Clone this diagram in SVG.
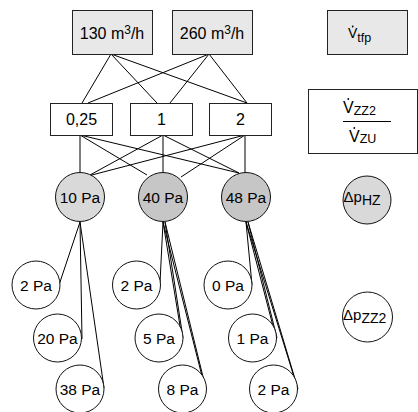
<svg xmlns="http://www.w3.org/2000/svg" width="418" height="412" viewBox="0 0 418 412">
<style>
text{font-family:"Liberation Sans",Arial,sans-serif;fill:#000}
.bx{font-size:16px;text-anchor:middle}
.ci{font-size:15.5px;text-anchor:middle}
.sub{font-size:12.5px}
.box{stroke:#222;stroke-width:1}
.gray{fill:#e8e8e8}
.white{fill:#fff}
.c{stroke:#111;stroke-width:1}
.c1{fill:#d9d9d9}
.c2{fill:#c6c6c6}
.cw{fill:#fff}
.dot{fill:#000}
#connectors line{stroke:#000;stroke-width:1}
</style>
<rect width="418" height="412" fill="#fff"/>
<g id="connectors">
<line x1="111" y1="54" x2="82" y2="103"/>
<line x1="111" y1="54" x2="157" y2="103"/>
<line x1="111" y1="54" x2="247" y2="103"/>
<line x1="209" y1="54" x2="88" y2="103"/>
<line x1="209" y1="54" x2="170" y2="103"/>
<line x1="209" y1="54" x2="247" y2="103"/>
<line x1="80" y1="135" x2="80" y2="173"/>
<line x1="80" y1="135" x2="147" y2="175"/>
<line x1="80" y1="135" x2="239" y2="173"/>
<line x1="163" y1="135" x2="90" y2="175"/>
<line x1="163" y1="135" x2="163" y2="173"/>
<line x1="163" y1="135" x2="239" y2="173"/>
<line x1="245" y1="135" x2="88" y2="176"/>
<line x1="245" y1="135" x2="181" y2="177"/>
<line x1="245" y1="135" x2="245" y2="173"/>
<line x1="80" y1="222" x2="59" y2="285"/>
<line x1="80" y1="222" x2="82" y2="339"/>
<line x1="80" y1="222" x2="104" y2="388"/>
<line x1="163" y1="222" x2="160" y2="283"/>
<line x1="163" y1="222" x2="181" y2="332"/>
<line x1="165" y1="222" x2="183" y2="338"/>
<line x1="163" y1="222" x2="203" y2="380"/>
<line x1="165" y1="222" x2="206" y2="389"/>
<line x1="246" y1="222" x2="252" y2="285"/>
<line x1="246" y1="222" x2="274" y2="330"/>
<line x1="248" y1="222" x2="277" y2="338"/>
<line x1="246" y1="222" x2="295" y2="380"/>
<line x1="248" y1="222" x2="298" y2="389"/>
</g>
<g id="n130">
<rect class="box gray" x="72.5" y="10.5" width="80" height="44"/>
<text class="bx" x="112" y="39">130 m<tspan font-size="12" dy="-5">3</tspan><tspan dy="5">/h</tspan></text>
</g>
<g id="n260">
<rect class="box gray" x="172.5" y="10.5" width="80" height="44"/>
<text class="bx" x="212" y="39">260 m<tspan font-size="12" dy="-5">3</tspan><tspan dy="5">/h</tspan></text>
</g>
<g id="legendVtfp">
<rect class="box gray" x="327.5" y="10.5" width="80" height="44"/>
<text x="348" y="38" font-size="14">V<tspan class="sub" dy="4">tfp</tspan></text>
<circle class="dot" cx="352.7" cy="26.5" r="0.9"/>
</g>
<g id="r025">
<rect class="box white" x="50.5" y="103.5" width="62" height="32"/>
<text class="bx" x="81.5" y="125">0,25</text>
</g>
<g id="r1">
<rect class="box white" x="130.5" y="103.5" width="62" height="32"/>
<text class="bx" x="161.5" y="125">1</text>
</g>
<g id="r2">
<rect class="box white" x="209.5" y="103.5" width="62" height="32"/>
<text class="bx" x="240.5" y="125">2</text>
</g>
<g id="legendRatio">
<rect class="box white" x="308.5" y="89.5" width="109" height="64"/>
<text x="343" y="113" font-size="16">V<tspan class="sub" font-size="14" dy="2">ZZ2</tspan></text>
<circle class="dot" cx="348.3" cy="99" r="0.9"/>
<line x1="343" y1="121.5" x2="391" y2="121.5" stroke="#000" stroke-width="1"/>
<text x="349" y="142" font-size="16">V<tspan class="sub" font-size="14" dy="1">ZU</tspan></text>
<circle class="dot" cx="354.3" cy="128" r="0.9"/>
</g>
<g id="p10">
<circle class="c c1" cx="80" cy="197" r="24.5"/>
<text class="ci" x="80" y="203">10 Pa</text>
</g>
<g id="p40">
<circle class="c c2" cx="163" cy="197" r="24.5"/>
<text class="ci" x="163" y="203">40 Pa</text>
</g>
<g id="p48">
<circle class="c c2" cx="246" cy="197" r="24.5"/>
<text class="ci" x="246" y="203">48 Pa</text>
</g>
<g id="legendHZ">
<circle class="c c1" cx="367" cy="200" r="24"/>
<text x="343.5" y="202" font-size="15">Δp<tspan font-size="14" dy="3">HZ</tspan></text>
</g>
<g id="a2">
<circle class="c cw" cx="36" cy="285" r="24"/>
<text class="ci" x="36" y="291">2 Pa</text>
</g>
<g id="a20">
<circle class="c cw" cx="57.5" cy="338" r="24"/>
<text class="ci" x="57.5" y="344">20 Pa</text>
</g>
<g id="a38">
<circle class="c cw" cx="80" cy="389" r="24"/>
<text class="ci" x="80" y="395">38 Pa</text>
</g>
<g id="b2">
<circle class="c cw" cx="136.5" cy="285" r="24"/>
<text class="ci" x="136.5" y="291">2 Pa</text>
</g>
<g id="b5">
<circle class="c cw" cx="159" cy="338" r="24"/>
<text class="ci" x="159" y="344">5 Pa</text>
</g>
<g id="b8">
<circle class="c cw" cx="182.5" cy="389" r="24"/>
<text class="ci" x="182.5" y="395">8 Pa</text>
</g>
<g id="c0">
<circle class="c cw" cx="228" cy="285" r="24"/>
<text class="ci" x="228" y="291">0 Pa</text>
</g>
<g id="c1">
<circle class="c cw" cx="252.5" cy="338" r="24"/>
<text class="ci" x="252.5" y="344">1 Pa</text>
</g>
<g id="c2">
<circle class="c cw" cx="273.5" cy="389" r="24"/>
<text class="ci" x="273.5" y="395">2 Pa</text>
</g>
<g id="legendZZ2">
<circle class="c cw" cx="367.5" cy="317" r="25"/>
<text x="343" y="320" font-size="15">Δp<tspan font-size="14" dy="3">ZZ2</tspan></text>
</g>
</svg>
